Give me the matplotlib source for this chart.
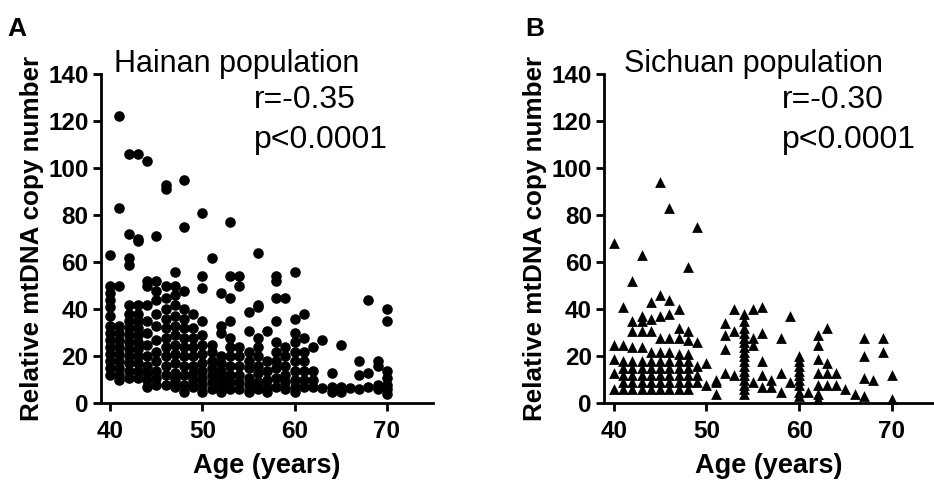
import matplotlib
matplotlib.use("Agg")
import matplotlib.pyplot as plt

plt.rcParams['font.family'] = ['Liberation Sans', 'DejaVu Sans']

# Hainan population: age (years) and relative mtDNA copy number per age
hainan_ages = [40, 41, 42, 43, 44, 45, 46, 47, 48, 49, 50, 51, 52, 53, 54, 55,
               56, 57, 58, 59, 60, 61, 62, 63, 64, 65, 66, 67, 68, 69, 70]
hainan_copy = [
    [63, 50, 47, 44, 41, 37, 33, 30, 27, 24, 21, 18, 15, 12],
    [122, 83, 50, 33, 30, 27, 24, 21, 18, 15, 12, 10],
    [106, 72, 62, 59, 42, 38, 35, 32, 29, 26, 23, 20, 17, 14, 11],
    [106, 70, 69, 42, 38, 35, 32, 29, 26, 23, 20, 17, 14, 11],
    [103, 52, 50, 42, 35, 30, 25, 20, 16, 13, 10, 7],
    [71, 52, 48, 44, 38, 33, 27, 22, 18, 14, 11, 8],
    [93, 91, 50, 45, 40, 36, 32, 28, 24, 20, 16, 12, 8],
    [56, 50, 46, 42, 37, 33, 29, 25, 21, 17, 13, 10, 7],
    [95, 75, 48, 40, 36, 32, 28, 24, 20, 16, 12, 8, 5],
    [38, 32, 28, 24, 20, 16, 13, 10, 7],
    [81, 54, 49, 35, 29, 25, 21, 17, 14, 11, 8, 5],
    [62, 25, 22, 18, 15, 12, 9, 6],
    [47, 33, 30, 20, 17, 14, 11, 8, 5],
    [77, 54, 45, 35, 28, 24, 20, 16, 12, 9, 6],
    [54, 50, 24, 20, 16, 12, 9, 6],
    [39, 31, 22, 18, 15, 11, 8, 5],
    [64, 42, 41, 28, 24, 20, 16, 13, 9, 6],
    [31, 18, 14, 10, 7, 5],
    [54, 52, 45, 35, 26, 22, 18, 15, 11, 7],
    [45, 24, 20, 16, 12, 9, 6],
    [56, 36, 30, 26, 22, 18, 14, 10, 7, 5],
    [38, 28, 22, 18, 14, 10, 7],
    [24, 14, 10, 7],
    [27, 6.5],
    [13, 7, 5],
    [25, 7, 5],
    [6.5],
    [18, 12, 6],
    [44, 13, 7],
    [18, 16, 8, 6],
    [40, 35, 14, 11, 8, 6, 4],
]

# Sichuan population
sichuan_ages = [40, 41, 42, 43, 44, 45, 46, 47, 48, 49, 50, 51, 52, 53, 54, 55,
                56, 57, 58, 59, 60, 61, 62, 63, 64, 65, 66, 67, 68, 69, 70]
sichuan_copy = [
    [68, 25, 19, 13, 6],
    [41, 25, 18, 15, 12, 9, 6],
    [52, 35, 31, 24, 18, 15, 12, 9, 6],
    [63, 37, 35, 31, 24, 18, 15, 12, 9, 6],
    [43, 36, 31, 22, 18, 15, 12, 9, 6],
    [94, 46, 37, 28, 22, 18, 15, 12, 9, 6],
    [83, 44, 38, 28, 22, 18, 15, 12, 9, 6],
    [40, 32, 28, 21, 18, 15, 12, 9, 6],
    [58, 31, 27, 21, 18, 15, 12, 9, 6],
    [75, 26, 16, 12, 9],
    [17, 8],
    [10, 9, 4],
    [34, 29, 23, 13],
    [40, 31, 12],
    [38, 35, 32, 30, 28, 26, 24, 22, 20, 18, 16, 14, 12, 10, 8, 6, 4],
    [40, 28, 25, 9],
    [41, 30, 18, 12, 7],
    [10, 7],
    [28, 13, 5],
    [37, 9],
    [20, 18, 16, 14, 12, 10, 8, 5, 3],
    [5],
    [29, 25, 19, 13, 8, 4, 2],
    [32, 17, 13, 8],
    [13, 8],
    [6],
    [4],
    [28, 20, 11, 3],
    [10],
    [28, 22],
    [12, 2],
]

y_ticks = [0, 20, 40, 60, 80, 100, 120, 140]
x_ticks = [40, 50, 60, 70]


def flatten(ages, values):
    xs = []
    ys = []
    for a, vals in zip(ages, values):
        for v in vals:
            xs.append(a)
            ys.append(v)
    return xs, ys


def style_axis(ax, xmax):
    ax.set_xlim(39, xmax)
    ax.set_ylim(0, 140)
    ax.set_xticks(x_ticks)
    ax.set_yticks(y_ticks)
    ax.spines['top'].set_visible(False)
    ax.spines['right'].set_visible(False)
    for s in ['left', 'bottom']:
        ax.spines[s].set_linewidth(2)
    ax.tick_params(direction='out', length=6, width=2, pad=3)
    ax.tick_params(axis='x', pad=6)
    for lab in ax.get_xticklabels() + ax.get_yticklabels():
        lab.set_fontsize(17.5)
        lab.set_fontweight('bold')
    ax.set_xlabel('Age (years)', fontsize=19.5, fontweight='bold', labelpad=7)
    ax.set_ylabel('Relative mtDNA copy number', fontsize=18.7, fontweight='bold', labelpad=3)


fig = plt.figure(figsize=(9.34, 4.82), dpi=100)

ax1 = fig.add_axes([0.1081, 0.1629, 0.3555, 0.6836])
x, y = flatten(hainan_ages, hainan_copy)
ax1.scatter(x, y, s=58, marker='o', color='black', linewidths=0, clip_on=False, zorder=3)
style_axis(ax1, 75)
ax1.text(0.04, 1.03, 'Hainan population', transform=ax1.transAxes, fontsize=22, va='center')
ax1.text(0.46, 0.92, 'r=-0.35', transform=ax1.transAxes, fontsize=23, va='center')
ax1.text(0.46, 0.80, 'p<0.0001', transform=ax1.transAxes, fontsize=23, va='center')

ax2 = fig.add_axes([0.6472, 0.1629, 0.3523, 0.6836])
x, y = flatten(sichuan_ages, sichuan_copy)
ax2.scatter(x, y, s=60, marker='^', color='black', linewidths=0, clip_on=False, zorder=3)
style_axis(ax2, 74.5)
ax2.text(0.06, 1.03, 'Sichuan population', transform=ax2.transAxes, fontsize=22, va='center')
ax2.text(0.54, 0.92, 'r=-0.30', transform=ax2.transAxes, fontsize=23, va='center')
ax2.text(0.54, 0.80, 'p<0.0001', transform=ax2.transAxes, fontsize=23, va='center')

fig.text(0.008, 0.94, 'A', fontsize=19, fontweight='bold', va='center')
fig.text(0.562, 0.94, 'B', fontsize=19, fontweight='bold', va='center')

fig.savefig('out.png', dpi=100)
